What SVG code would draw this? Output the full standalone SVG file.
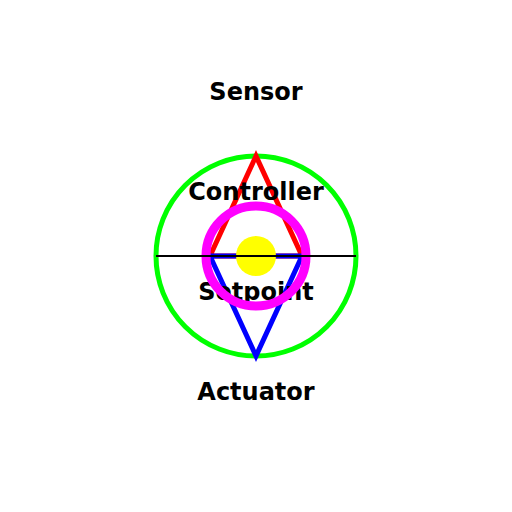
<svg xmlns="http://www.w3.org/2000/svg" width="512" height="512" viewBox="0 0 512 512">
<style>
.lbl{font-family:"DejaVu Sans",sans-serif;font-weight:bold;font-size:24px;text-anchor:middle;fill:#000}
</style>
<rect width="512" height="512" fill="#fff"/>
<g id="outer"><circle cx="256" cy="256" r="100" fill="none" stroke="#00ff00" stroke-width="5"/></g>
<g id="connectors">
<polygon points="256,156 210,256 302,256" fill="none" stroke="#ff0000" stroke-width="5"/>
<polygon points="210,256 302,256 256,356" fill="none" stroke="#0000ff" stroke-width="5"/>
</g>
<g id="sensor"><text class="lbl" x="256" y="100">Sensor</text></g>
<g id="controller"><text class="lbl" x="256" y="200">Controller</text></g>
<g id="setpoint"><text class="lbl" x="256" y="300">Setpoint</text></g>
<g id="actuator"><text class="lbl" x="256" y="400">Actuator</text></g>
<g id="ring"><circle cx="256" cy="256" r="50" fill="none" stroke="#ff00ff" stroke-width="9"/></g>
<g id="core"><circle cx="256" cy="256" r="20" fill="#ffff00"/></g>
<g id="axis"><line x1="156" y1="256" x2="356" y2="256" stroke="#000" stroke-width="2"/></g>
</svg>
